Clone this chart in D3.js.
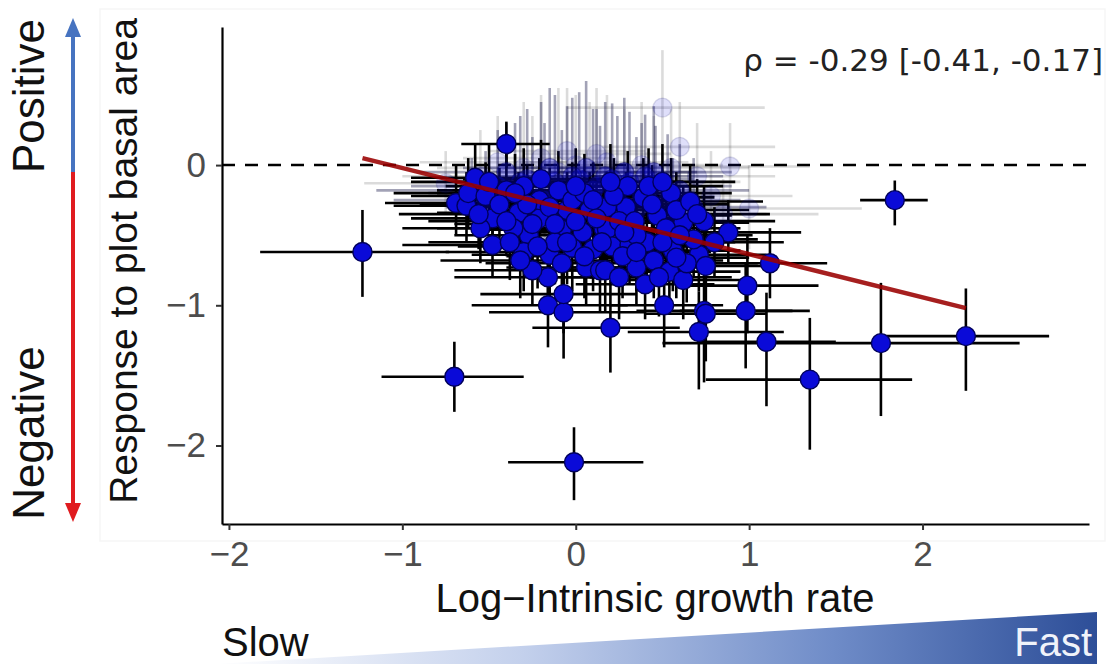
<!DOCTYPE html>
<html><head><meta charset="utf-8">
<script src="https://cdn.jsdelivr.net/npm/d3@7"></script>
<style>body{margin:0;background:#fff}svg{display:block}</style>
</head><body>
<svg id="chart" width="1109" height="664"></svg>
<script>
// ---------- data ----------
const xTicks = [-2, -1, 0, 1, 2];
const yTicks = [0, -1, -2];
const xDomain = [-2.04, 2.96];
const yDomain = [-2.56, 0.985];

// opaque species estimates (x = log intrinsic growth rate, y = response)
const ptX   = [-0.40,-1.23,-0.70,-0.01, 1.84, 2.25, 1.76, 1.35, 1.10, 0.98, 0.99, 0.74, 0.71, 0.20,-0.16,-0.07,-0.07,-0.16, 0.51, 0.75, 1.12, 0.88,
               -0.58,-0.69,-0.63,-0.48,-0.33,-0.48,-0.27,-0.21,-0.08,-0.15, 0.04, 0.16,-0.02, 0.06, 0.14,-0.40,-0.21,-0.05, 0.08, 0.18, 0.29, 0.39,
                0.55, 0.62, 0.18, 0.21, 0.31, 0.41, 0.56, 0.71, 0.17, 0.35, 0.54, 0.47, 0.25,-0.36,-0.30,-0.12, 0.00, 0.68, 0.45,-0.55, 0.30,-0.10,
                0.10,-0.25, 0.62, 0.40,
               -0.62,-0.52,-0.44,-0.56,-0.40,-0.28,-0.15,-0.30,-0.12,-0.02, 0.05, 0.12, 0.22, 0.34, 0.44, 0.52, 0.58, 0.66, 0.74, 0.80, 0.64, 0.50,
                0.27, 0.05,-0.08,-0.22,-0.38, 0.25, 0.35, 0.15,-0.05, 0.28, 0.60, 0.70, 0.10,-0.35,-0.50, 0.00, 0.20, 0.42, 0.50,-0.20, 0.35,-0.25,
                0.58, 0.75, 0.48,-0.32];
const ptY   = [ 0.15,-0.62,-1.51,-2.12,-0.25,-1.22,-1.27,-1.53,-1.26,-1.04,-0.86,-1.04,-1.19,-1.16,-1.00,-1.05,-0.92,-0.80,-1.00,-1.06,-0.70,-0.48,
               -0.09,-0.27,-0.29,-0.38,-0.34,-0.57,-0.50,-0.38,-0.46,-0.64,-0.48,-0.45,-0.59,-0.73,-0.75,-0.18,-0.25,-0.32,-0.32,-0.30,-0.30,-0.23,
               -0.20,-0.41,-0.46,-0.58,-0.57,-0.55,-0.61,-0.64,-0.75,-0.73,-0.76,-0.36,-0.40,-0.45,-0.62,-0.55,-0.40,-0.53,-0.68,-0.45,-0.15,-0.18,
               -0.60,-0.75,-0.82,-0.85,
               -0.20,-0.22,-0.28,-0.35,-0.40,-0.28,-0.30,-0.15,-0.42,-0.25,-0.20,-0.38,-0.22,-0.40,-0.28,-0.45,-0.32,-0.26,-0.40,-0.55,-0.70,-0.55,
               -0.65,-0.65,-0.70,-0.58,-0.55,-0.80,-0.50,-0.55,-0.55,-0.48,-0.50,-0.35,-0.25,-0.20,-0.12,-0.15,-0.12,-0.15,-0.12,-0.10,-0.62,-0.42,
               -0.66,-0.72,-0.80,-0.68];
const ptXlo = [-0.66,-1.82,-1.12,-0.39, 1.64, 1.77, 0.50, 0.75, 0.70, 0.60, 0.65, 0.35, 0.30,-0.25,-0.60,-0.50,-0.55,-0.70, 0.20, 0.40, 0.75, 0.55,
               -0.95,-1.10,-1.05,-0.95,-0.80,-1.00,-0.70,-0.60,-0.50,-0.60,-0.35,-0.25,-0.45,-0.40,-0.30,-0.80,-0.60,-0.45,-0.30,-0.20,-0.10, 0.00,
                0.20, 0.25,-0.20,-0.20,-0.10, 0.00, 0.15, 0.35,-0.25,-0.05, 0.15, 0.05,-0.15,-0.80,-0.75,-0.55,-0.40, 0.30, 0.05,-1.00,-0.10,-0.50,
               -0.30,-0.70, 0.25, 0.00,
               -1.05,-0.95,-0.90,-1.02,-0.85,-0.72,-0.60,-0.75,-0.55,-0.45,-0.38,-0.30,-0.20,-0.08, 0.02, 0.10, 0.18, 0.25, 0.35, 0.42, 0.25, 0.10,
               -0.15,-0.40,-0.52,-0.68,-0.85,-0.18,-0.08,-0.28,-0.48,-0.15, 0.20, 0.30,-0.32,-0.80,-0.95,-0.42,-0.22, 0.00, 0.08,-0.65,-0.05,-0.70,
                0.18, 0.38, 0.08,-0.78];
const ptXhi = [-0.15,-0.73,-0.30, 0.39, 2.03, 2.73, 2.56, 1.94, 1.50, 1.35, 1.40, 1.25, 1.20, 0.60, 0.30, 0.40, 0.35, 0.20, 0.85, 1.10, 1.45, 1.30,
               -0.25,-0.30,-0.20,-0.05, 0.10,-0.05, 0.15, 0.20, 0.35, 0.30, 0.45, 0.55, 0.40, 0.50, 0.60, 0.00, 0.20, 0.35, 0.50, 0.55, 0.70, 0.80,
                0.90, 1.00, 0.60, 0.65, 0.75, 0.85, 0.95, 1.10, 0.60, 0.80, 0.95, 0.90, 0.65, 0.05, 0.10, 0.30, 0.40, 1.05, 0.85,-0.10, 0.70, 0.30,
                0.50, 0.20, 1.00, 0.80,
               -0.20,-0.10, 0.00,-0.12, 0.05, 0.15, 0.28, 0.12, 0.30, 0.40, 0.48, 0.55, 0.65, 0.78, 0.88, 0.95, 1.00, 1.08, 1.15, 1.20, 1.05, 0.92,
                0.70, 0.50, 0.35, 0.22, 0.05, 0.68, 0.78, 0.58, 0.38, 0.72, 1.02, 1.12, 0.52, 0.08,-0.08, 0.42, 0.62, 0.85, 0.92, 0.22, 0.78, 0.18,
                1.00, 1.15, 0.90, 0.10];
const ptYlo = [-0.02,-0.94,-1.76,-2.39,-0.43,-1.61,-1.79,-2.03,-1.72,-1.45,-1.20,-1.55,-1.60,-1.48,-1.30,-1.38,-1.20,-1.05,-1.30,-1.40,-0.95,-0.70,
               -0.30,-0.50,-0.55,-0.60,-0.60,-0.80,-0.80,-0.65,-0.75,-0.95,-0.80,-0.75,-0.90,-1.00,-1.05,-0.45,-0.50,-0.60,-0.60,-0.55,-0.55,-0.50,
               -0.45,-0.65,-0.75,-0.85,-0.85,-0.85,-0.90,-0.90,-1.05,-1.00,-1.05,-0.60,-0.65,-0.70,-0.90,-0.85,-0.70,-0.80,-0.95,-0.70,-0.40,-0.45,
               -0.90,-1.00,-1.10,-1.10,
               -0.45,-0.45,-0.55,-0.60,-0.65,-0.55,-0.58,-0.40,-0.70,-0.50,-0.45,-0.65,-0.48,-0.68,-0.55,-0.72,-0.58,-0.50,-0.65,-0.80,-0.98,-0.82,
               -0.95,-0.95,-1.00,-0.88,-0.82,-1.10,-0.78,-0.82,-0.85,-0.75,-0.78,-0.60,-0.52,-0.45,-0.38,-0.42,-0.40,-0.42,-0.38,-0.38,-0.90,-0.70,
               -0.95,-1.00,-1.08,-0.95];
const ptYhi = [ 0.31,-0.32,-1.26,-1.87,-0.11,-0.88,-0.84,-1.09,-0.91,-0.70,-0.50,-0.75,-0.90,-0.82,-0.70,-0.75,-0.65,-0.55,-0.70,-0.75,-0.45,-0.25,
                0.15, 0.00,-0.05,-0.10,-0.05,-0.30,-0.20,-0.10,-0.15,-0.35,-0.15,-0.15,-0.30,-0.45,-0.45, 0.10, 0.05,-0.05,-0.05,-0.05,-0.05, 0.05,
                0.05,-0.15,-0.15,-0.30,-0.30,-0.25,-0.30,-0.35,-0.45,-0.45,-0.45,-0.10,-0.10,-0.20,-0.35,-0.25,-0.10,-0.25,-0.40,-0.20, 0.10, 0.10,
               -0.30,-0.50,-0.55,-0.60,
                0.05, 0.02,-0.02,-0.10,-0.15, 0.00,-0.02, 0.12,-0.15, 0.02, 0.08,-0.10, 0.05,-0.12, 0.00,-0.18,-0.05, 0.00,-0.15,-0.30,-0.42,-0.28,
               -0.38,-0.38,-0.42,-0.30,-0.28,-0.52,-0.22,-0.28,-0.25,-0.20,-0.22,-0.10, 0.02, 0.08, 0.15, 0.12, 0.15, 0.12, 0.15, 0.18,-0.35,-0.15,
               -0.38,-0.45,-0.52,-0.40];

// semi-transparent species estimates (intermediate weight)
const midX   = [-0.45,-0.35,-0.28,-0.20,-0.12,-0.05, 0.02, 0.10, 0.17, 0.24, 0.31, 0.38, 0.46, 0.53, 0.60, 0.68,-0.52,-0.60,-0.40,-0.15, 0.06, 0.28, 0.45,-0.25, 0.14, 0.35,-0.08, 0.56,
                -0.32,-0.02, 0.21, 0.40, 0.12,-0.18];
const midY   = [-0.15,-0.20,-0.10,-0.22,-0.12,-0.20,-0.10,-0.18,-0.08,-0.20,-0.12,-0.22,-0.15,-0.25,-0.18,-0.30,-0.25,-0.18,-0.05,-0.02,-0.02,-0.05,-0.05,-0.30,-0.30,-0.32,-0.35,-0.40,
                -0.12,-0.08,-0.10,-0.08,-0.15,-0.25];
const midXlo = [-0.95,-0.85,-0.75,-0.70,-0.60,-0.55,-0.45,-0.35,-0.30,-0.20,-0.10,-0.05, 0.05, 0.10, 0.20, 0.25,-1.05,-1.15,-0.90,-0.65,-0.40,-0.15, 0.00,-0.75,-0.30,-0.10,-0.55, 0.15,
                -0.80,-0.48,-0.25,-0.05,-0.35,-0.68];
const midXhi = [ 0.00, 0.10, 0.15, 0.25, 0.30, 0.40, 0.45, 0.55, 0.60, 0.70, 0.75, 0.80, 0.90, 0.95, 1.00, 1.10,-0.05,-0.15, 0.05, 0.30, 0.50, 0.70, 0.90, 0.20, 0.60, 0.80, 0.35, 1.00,
                 0.15, 0.45, 0.68, 0.85, 0.58, 0.28];
const midYlo = [-0.45,-0.50,-0.40,-0.55,-0.45,-0.50,-0.45,-0.50,-0.40,-0.50,-0.45,-0.55,-0.45,-0.55,-0.45,-0.60,-0.50,-0.40,-0.30,-0.30,-0.35,-0.35,-0.35,-0.60,-0.60,-0.60,-0.65,-0.70,
                -0.42,-0.38,-0.40,-0.38,-0.45,-0.55];
const midYhi = [ 0.25, 0.30, 0.40, 0.45, 0.50, 0.42, 0.52, 0.40, 0.45, 0.35, 0.38, 0.30, 0.28, 0.22, 0.15, 0.05, 0.10, 0.05, 0.30, 0.55, 0.60, 0.48, 0.42, 0.20, 0.28, 0.20, 0.25, 0.05,
                 0.35, 0.48, 0.44, 0.36, 0.40, 0.30];

// faded (low-weight) species estimates
const fadeX   = [0.50, 0.60, 0.89, 1.00,-0.75,-0.45,-0.30,-0.20,-0.10, 0.00, 0.08, 0.18, 0.28, 0.38, 0.45, 0.70, 0.78,-0.55, 0.12,-0.05, 0.55,-0.25, 0.65, 0.85];
const fadeY   = [0.41, 0.13,-0.01,-0.31,-0.13, 0.02,-0.02, 0.05,-0.05, 0.00,-0.08, 0.02,-0.05, 0.00,-0.12,-0.08,-0.22,-0.08, 0.08, 0.10,-0.02,-0.12,-0.35,-0.35];
const fadeXlo = [-0.05,0.15, 0.45, 0.45,-1.22,-0.90,-0.80,-0.65,-0.60,-0.45,-0.35,-0.30,-0.15,-0.05, 0.00, 0.25, 0.35,-1.00,-0.30,-0.50, 0.10,-0.70, 0.20, 0.40];
const fadeXhi = [1.09, 1.15, 1.35, 1.65,-0.30,-0.05, 0.10, 0.20, 0.35, 0.45, 0.55, 0.65, 0.75, 0.85, 0.95, 1.15, 1.25,-0.10, 0.55, 0.40, 1.00, 0.20, 1.10, 1.40];
const fadeYlo = [0.00,-0.20,-0.30,-0.60,-0.35,-0.25,-0.30,-0.25,-0.35,-0.30,-0.40,-0.30,-0.35,-0.30,-0.40,-0.35,-0.50,-0.30,-0.20,-0.15,-0.30,-0.40,-0.60,-0.55];
const fadeYhi = [0.82, 0.45, 0.30, 0.00, 0.10, 0.35, 0.45, 0.50, 0.55, 0.50, 0.45, 0.50, 0.40, 0.45, 0.35, 0.30, 0.10, 0.25, 0.55, 0.55, 0.40, 0.35,-0.05,-0.10];

const fitX = [-1.23, 2.25];
const fitY = [0.05, -1.02];

const rhoLabel = "ρ = -0.29 [-0.41, -0.17]";
const xTitle = "Log\u2212Intrinsic growth rate";
const yTitle = "Response to plot basal area";
const posLabel = "Positive", negLabel = "Negative";
const slowLabel = "Slow", fastLabel = "Fast";

// ---------- drawing ----------
const svg = d3.select("#chart");
const sans = "'Liberation Sans', Arial, Helvetica, sans-serif";
const x = d3.scaleLinear().domain(xDomain).range([222, 1089]);
const y = d3.scaleLinear().domain(yDomain).range([524, 27]);

// faint outer frame
svg.append("rect").attr("x", 100).attr("y", 9).attr("width", 1005).attr("height", 532)
  .attr("fill", "none").attr("stroke", "#f6f6f6").attr("stroke-width", 1.5);

// bottom gradient wedge
const defs = svg.append("defs");
const grad = defs.append("linearGradient").attr("id", "wedge").attr("x1", "0").attr("x2", "1").attr("y1", "0").attr("y2", "0");
[[0, "#ffffff"], [0.35, "#c3d0ec"], [0.7, "#6f8cc8"], [1, "#2d4e98"]].forEach(([o, c]) =>
  grad.append("stop").attr("offset", o).attr("stop-color", c));
svg.append("path").attr("d", "M215,664 L1097,612 L1097,664 Z").attr("fill", "url(#wedge)");
svg.append("text").attr("x", 222).attr("y", 656).attr("font-family", sans).attr("font-size", 40)
  .attr("fill", "#111").text(slowLabel);
svg.append("text").attr("x", 1092).attr("y", 656).attr("text-anchor", "end").attr("font-family", sans)
  .attr("font-size", 40).attr("fill", "#f0f3fa").text(fastLabel);

// left direction arrow
svg.append("line").attr("x1", 73).attr("x2", 73).attr("y1", 34).attr("y2", 172)
  .attr("stroke", "#4673c0").attr("stroke-width", 4);
svg.append("line").attr("x1", 73).attr("x2", 73).attr("y1", 172).attr("y2", 506)
  .attr("stroke", "#e01b1f").attr("stroke-width", 4);
svg.append("path").attr("d", "M73,18 L81,37 L65,37 Z").attr("fill", "#4673c0");
svg.append("path").attr("d", "M73,522 L81,503 L65,503 Z").attr("fill", "#e01b1f");
svg.append("text").attr("transform", "translate(44,96) rotate(-90)").attr("text-anchor", "middle")
  .attr("font-family", sans).attr("font-size", 44).attr("fill", "#111").text(posLabel);
svg.append("text").attr("transform", "translate(44,433) rotate(-90)").attr("text-anchor", "middle")
  .attr("font-family", sans).attr("font-size", 44).attr("fill", "#111").text(negLabel);

// zero reference line
svg.append("line").attr("x1", x(xDomain[0])).attr("x2", x(xDomain[1])).attr("y1", y(0)).attr("y2", y(0))
  .attr("stroke", "#000").attr("stroke-width", 2.5).attr("stroke-dasharray", "13,10");

const rows = (X, Y, XL, XH, YL, YH) => X.map((v, i) => ({x: v, y: Y[i], xlo: XL[i], xhi: XH[i], ylo: YL[i], yhi: YH[i]}));
const solid = rows(ptX, ptY, ptXlo, ptXhi, ptYlo, ptYhi);
const mid = rows(midX, midY, midXlo, midXhi, midYlo, midYhi);
const faded = rows(fadeX, fadeY, fadeXlo, fadeXhi, fadeYlo, fadeYhi);

function bars(data, op, col) {
  const g = svg.append("g").attr("stroke", col).attr("stroke-width", 2.6).attr("stroke-opacity", op);
  g.selectAll(".h").data(data).join("line").attr("class", "h")
    .attr("x1", d => x(d.xlo)).attr("x2", d => x(d.xhi)).attr("y1", d => y(d.y)).attr("y2", d => y(d.y));
  g.selectAll(".v").data(data).join("line").attr("class", "v")
    .attr("x1", d => x(d.x)).attr("x2", d => x(d.x)).attr("y1", d => y(d.ylo)).attr("y2", d => y(d.yhi));
}
function points(data, op) {
  svg.append("g").selectAll("circle").data(data).join("circle")
    .attr("cx", d => x(d.x)).attr("cy", d => y(d.y)).attr("r", 9.5)
    .attr("fill", "#0a0ad8").attr("stroke", "#00005a").attr("stroke-width", 1.4)
    .attr("fill-opacity", op).attr("stroke-opacity", op);
}
bars(faded, 0.14, "#000");
bars(mid, 0.38, "#0a0a40");
bars(solid, 1, "#000");
points(faded, 0.13);
points(mid, 0.35);
points(solid, 1);

// fitted line
svg.append("line").attr("x1", x(fitX[0])).attr("y1", y(fitY[0])).attr("x2", x(fitX[1])).attr("y2", y(fitY[1]))
  .attr("stroke", "#9a0000").attr("stroke-opacity", 0.88).attr("stroke-width", 4.5);

// axes
const fmt = d => d < 0 ? "\u2212" + Math.abs(d) : String(d);
const gx = svg.append("g").attr("transform", "translate(0,524)")
  .call(d3.axisBottom(x).tickValues(xTicks).tickFormat(fmt).tickSizeOuter(0).tickSizeInner(6).tickPadding(11));
const gy = svg.append("g").attr("transform", "translate(222,0)")
  .call(d3.axisLeft(y).tickValues(yTicks).tickFormat(fmt).tickSizeOuter(0).tickSizeInner(6).tickPadding(10));
[gx, gy].forEach(g => {
  g.select(".domain").attr("stroke", "#000").attr("stroke-width", 2.2);
  g.selectAll(".tick line").attr("stroke", "#333").attr("stroke-width", 2);
  g.selectAll(".tick text").attr("font-family", sans).attr("font-size", 35).attr("fill", "#4d4d4d");
});

// titles
svg.append("text").attr("x", 655).attr("y", 612).attr("text-anchor", "middle")
  .attr("font-family", sans).attr("font-size", 40).attr("fill", "#111").text(xTitle);
svg.append("text").attr("transform", "translate(137,261) rotate(-90)").attr("text-anchor", "middle")
  .attr("font-family", sans).attr("font-size", 39).attr("fill", "#111").text(yTitle);

// correlation annotation
svg.append("text").attr("x", 1103).attr("y", 71).attr("text-anchor", "end")
  .attr("font-family", "'DejaVu Sans', sans-serif").attr("font-size", 31).attr("fill", "#222").text(rhoLabel);
</script>
</body></html>
